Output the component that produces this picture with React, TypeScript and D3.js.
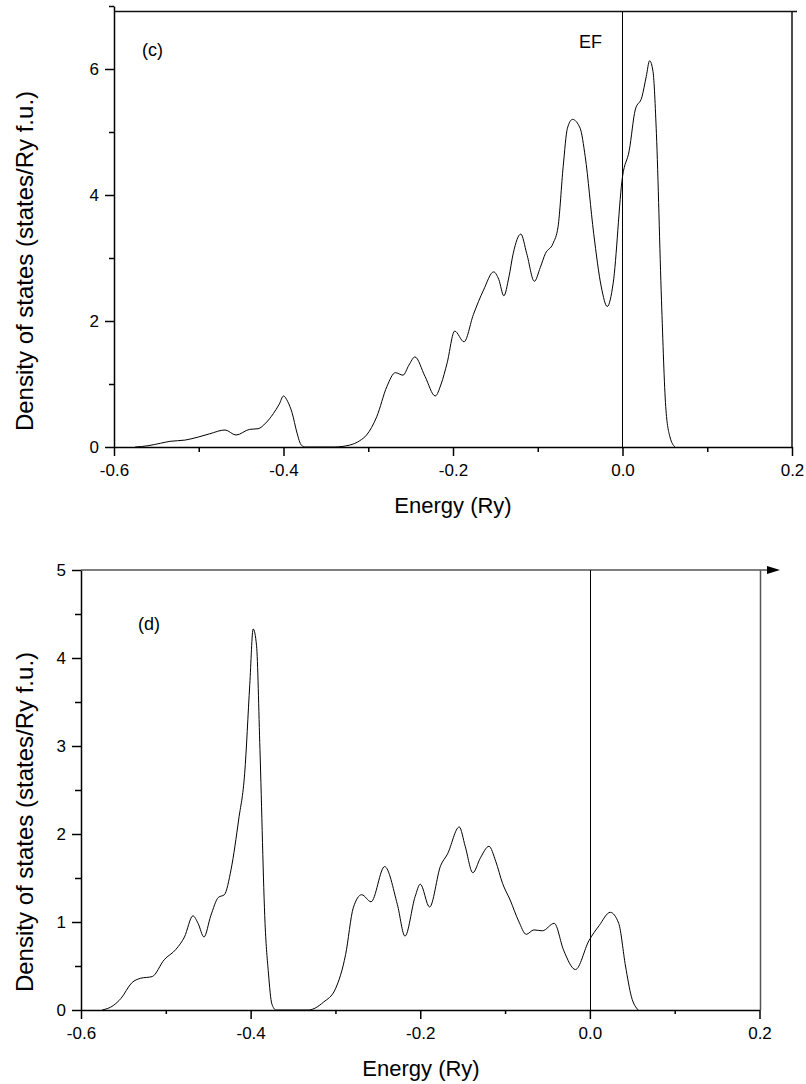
import React, { useEffect, useRef } from 'react';
import * as d3 from 'd3';

// panel (c)
const cEnergy = [-0.575, -0.56, -0.545, -0.534, -0.516, -0.5, -0.487, -0.469, -0.456, -0.44, -0.43, -0.421, -0.412, -0.405, -0.4, -0.395, -0.39, -0.384, -0.379, -0.374, -0.34, -0.322, -0.31, -0.302, -0.29, -0.278, -0.268, -0.259, -0.252, -0.245, -0.233, -0.221, -0.214, -0.207, -0.198, -0.187, -0.176, -0.164, -0.152, -0.146, -0.14, -0.134, -0.129, -0.12, -0.113, -0.104, -0.097, -0.091, -0.082, -0.076, -0.07, -0.065, -0.059, -0.05, -0.044, -0.034, -0.025, -0.018, -0.011, 0.0, 0.008, 0.015, 0.023, 0.028, 0.032, 0.036, 0.04, 0.046, 0.051, 0.056, 0.062];
const cDos = [0, 0.02, 0.06, 0.09, 0.11, 0.16, 0.21, 0.27, 0.19, 0.28, 0.29, 0.38, 0.53, 0.68, 0.81, 0.72, 0.55, 0.22, 0.03, 0, 0, 0.03, 0.1, 0.19, 0.48, 0.96, 1.18, 1.14, 1.3, 1.43, 1.12, 0.81, 1.0, 1.33, 1.84, 1.67, 2.1, 2.49, 2.78, 2.66, 2.4, 2.7, 3.07, 3.38, 3.07, 2.63, 2.85, 3.07, 3.23, 3.5, 4.45, 5.06, 5.2, 5.06, 4.61, 3.39, 2.54, 2.23, 2.6, 4.29, 4.71, 5.35, 5.56, 5.88, 6.13, 5.96, 4.98, 2.33, 0.64, 0.16, 0];

// panel (d)
const dEnergy = [-0.575, -0.562, -0.553, -0.54, -0.53, -0.516, -0.502, -0.488, -0.478, -0.468, -0.462, -0.455, -0.447, -0.438, -0.431, -0.423, -0.414, -0.407, -0.401, -0.397, -0.393, -0.389, -0.383, -0.379, -0.375, -0.37, -0.332, -0.314, -0.3, -0.288, -0.279, -0.269, -0.258, -0.242, -0.227, -0.218, -0.206, -0.2, -0.189, -0.176, -0.168, -0.154, -0.147, -0.138, -0.129, -0.119, -0.111, -0.103, -0.094, -0.084, -0.075, -0.066, -0.056, -0.042, -0.031, -0.017, -0.001, 0.011, 0.024, 0.034, 0.042, 0.049, 0.057];
const dDos = [0, 0.05, 0.13, 0.31, 0.36, 0.38, 0.57, 0.69, 0.83, 1.07, 0.985, 0.83, 1.07, 1.28, 1.31, 1.6, 2.17, 2.69, 3.7, 4.33, 4.14, 2.96, 0.985, 0.42, 0.07, 0, 0, 0.09, 0.24, 0.63, 1.16, 1.31, 1.23, 1.63, 1.2, 0.84, 1.29, 1.43, 1.17, 1.64, 1.77, 2.08, 1.86, 1.56, 1.73, 1.86, 1.69, 1.44, 1.25, 1.01, 0.86, 0.91, 0.9, 0.985, 0.68, 0.46, 0.79, 0.96, 1.11, 0.985, 0.5, 0.15, 0];

const xTicks = [-0.6, -0.4, -0.2, 0.0, 0.2];
const xMinorTicks = [-0.5, -0.3, -0.1, 0.1];
const cYTicks = [0, 2, 4, 6];
const cYMinorTicks = [1, 3, 5, 7];
const dYTicks = [0, 1, 2, 3, 4, 5];
const dYMinorTicks = [0.5, 1.5, 2.5, 3.5, 4.5];

const FONT = '"Liberation Sans", Arial, Helvetica, sans-serif';
const X_TITLE = 'Energy (Ry)';
const Y_TITLE = 'Density of states (states/Ry f.u.)';

// plain hyphen instead of d3's unicode minus
const fmtX = (d: any) => (+d).toFixed(1);
const fmtY = (d: any) => String(d);

function styleAxis(g: any, lw: number) {
  g.attr('font-family', FONT).attr('font-size', 17);
  g.select('.domain').attr('stroke', '#000').attr('stroke-width', lw);
  g.selectAll('line').attr('stroke', '#000').attr('stroke-width', lw);
  g.selectAll('text').attr('fill', '#000');
}

function drawPanel(svg: any, p: any) {
  const x = d3.scaleLinear().domain([-0.6, 0.2]).range([p.left, p.right]);
  const y = d3.scaleLinear().domain([0, p.yMax]).range([p.bottom, p.top]);
  const g = svg.append('g');

  // frame (top + right)
  g.append('line')
    .attr('x1', p.left).attr('x2', p.frameTopEnd)
    .attr('y1', p.frameTop).attr('y2', p.frameTop)
    .attr('stroke', p.frameColor).attr('stroke-width', 1.5);
  g.append('line')
    .attr('x1', p.frameRight).attr('x2', p.frameRight)
    .attr('y1', p.frameTop).attr('y2', p.bottom)
    .attr('stroke', p.frameColor).attr('stroke-width', 1.5);
  if (p.arrow) {
    const ax = p.frameTopEnd;
    g.append('path')
      .attr('d', `M${ax - 1},${p.frameTop - 4}L${ax + 12},${p.frameTop}L${ax - 1},${p.frameTop + 4}Z`)
      .attr('fill', '#000');
  }

  // Fermi level
  const x0 = Math.round(x(0)) + 0.5;
  g.append('line')
    .attr('x1', x0).attr('x2', x0)
    .attr('y1', p.frameTop).attr('y2', p.bottom)
    .attr('stroke', '#000').attr('stroke-width', 1);

  // axes
  const xMinor = g.append('g').attr('transform', `translate(0,${p.bottom})`)
    .call(d3.axisBottom(x).tickValues(xMinorTicks).tickSize(p.xMinorSize).tickSizeOuter(0).tickFormat(() => ''));
  xMinor.select('.domain').remove();
  styleAxis(xMinor, 1.5);
  const xMajor = g.append('g').attr('transform', `translate(0,${p.bottom})`)
    .call(d3.axisBottom(x).tickValues(xTicks).tickSize(9).tickSizeOuter(0).tickPadding(8).tickFormat(fmtX));
  styleAxis(xMajor, 1.5);

  const yMinor = g.append('g').attr('transform', `translate(${p.left},0)`)
    .call(d3.axisLeft(y).tickValues(p.yMinor).tickSize(p.yMinorSize).tickSizeOuter(0).tickFormat(() => ''));
  yMinor.select('.domain').remove();
  styleAxis(yMinor, 1.5);
  const yMajor = g.append('g').attr('transform', `translate(${p.left},0)`)
    .call(d3.axisLeft(y).tickValues(p.yTicks).tickSize(9).tickSizeOuter(0).tickPadding(6).tickFormat(fmtY));
  styleAxis(yMajor, 1.5);

  // curve
  const pts = d3.zip(p.energy, p.dos) as [number, number][];
  const line = d3.line<[number, number]>()
    .x(d => x(d[0]))
    .y(d => y(d[1]))
    .curve(d3.curveMonotoneX);
  g.append('path')
    .attr('d', line(pts))
    .attr('fill', 'none')
    .attr('stroke', '#000')
    .attr('stroke-width', 1);

  // texts
  g.append('text')
    .attr('x', p.labelX).attr('y', p.labelY)
    .attr('font-family', FONT).attr('font-size', 18)
    .text(p.label);
  if (p.ef) {
    g.append('text')
      .attr('x', p.efX).attr('y', p.efY)
      .attr('font-family', FONT).attr('font-size', 18)
      .text('EF');
  }
  g.append('text')
    .attr('x', p.xTitleX).attr('y', p.xTitleY)
    .attr('text-anchor', 'middle')
    .attr('font-family', FONT).attr('font-size', 22)
    .text(X_TITLE);
  g.append('text')
    .attr('transform', `translate(${p.yTitleX},${p.yTitleY}) rotate(-90)`)
    .attr('text-anchor', 'middle')
    .attr('font-family', FONT).attr('font-size', 24)
    .text(Y_TITLE);
}

export default function App() {
  const ref = useRef<SVGSVGElement>(null);

  useEffect(() => {
    const svg = d3.select(ref.current);
    svg.selectAll('*').remove();

    drawPanel(svg, {
      left: 114, right: 792, top: 6, bottom: 447, yMax: 7,
      frameTop: 11.5, frameTopEnd: 797, frameRight: 792, frameColor: '#111',
      arrow: false,
      energy: cEnergy, dos: cDos,
      yTicks: cYTicks, yMinor: cYMinorTicks, yMinorSize: 5, xMinorSize: 5,
      label: '(c)', labelX: 142, labelY: 56,
      ef: true, efX: 579, efY: 48,
      xTitleX: 453, xTitleY: 513,
      yTitleX: 33, yTitleY: 261,
    });

    drawPanel(svg, {
      left: 81, right: 759.5, top: 570, bottom: 1010, yMax: 5,
      frameTop: 570, frameTopEnd: 768, frameRight: 760.5, frameColor: '#555',
      arrow: true,
      energy: dEnergy, dos: dDos,
      yTicks: dYTicks, yMinor: dYMinorTicks, yMinorSize: 6, xMinorSize: 4,
      label: '(d)', labelX: 138, labelY: 630,
      ef: false,
      xTitleX: 421, xTitleY: 1076,
      yTitleX: 33, yTitleY: 822,
    });
  }, []);

  return (
    <svg
      ref={ref}
      width={806}
      height={1084}
      style={{ position: 'absolute', left: 0, top: 0, background: '#fff' }}
    />
  );
}
